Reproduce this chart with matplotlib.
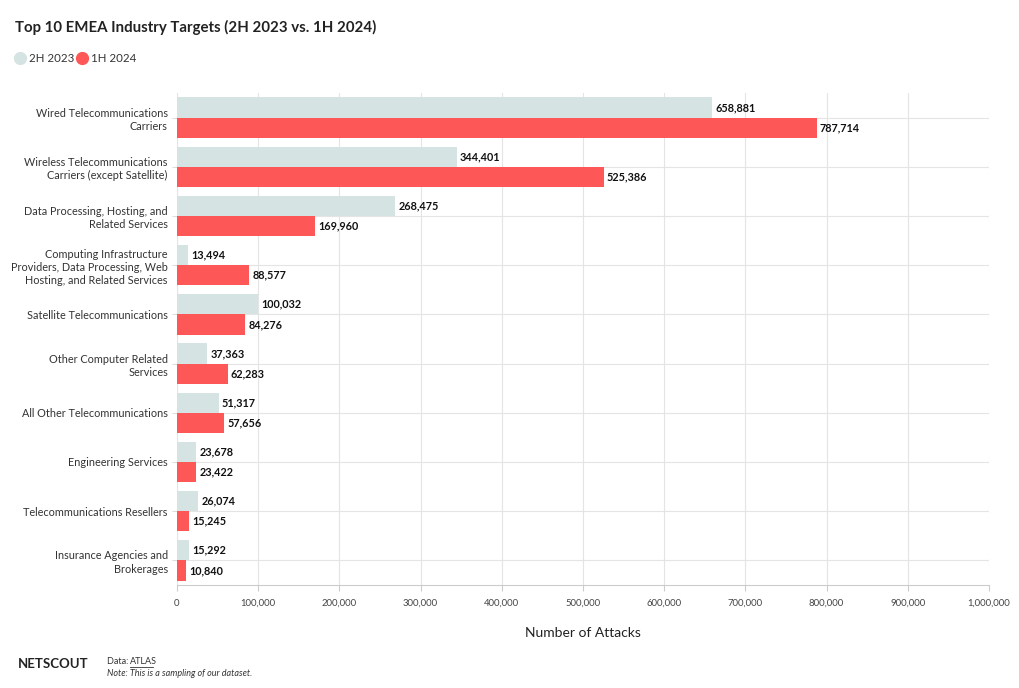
import matplotlib.pyplot as plt
import numpy as np

categories = [
    "Wired Telecommunications\nCarriers",
    "Wireless Telecommunications\nCarriers (except Satellite)",
    "Data Processing, Hosting, and\nRelated Services",
    "Computing Infrastructure\nProviders, Data Processing, Web\nHosting, and Related Services",
    "Satellite Telecommunications",
    "Other Computer Related\nServices",
    "All Other Telecommunications",
    "Engineering Services",
    "Telecommunications Resellers",
    "Insurance Agencies and\nBrokerages",
]
h2_2023 = [658881, 344401, 268475, 13494, 100032, 37363, 51317, 23678, 26074, 15292]
h1_2024 = [787714, 525386, 169960, 88577, 84276, 62283, 57656, 23422, 15245, 10840]
series_names = ["2H 2023", "1H 2024"]
xticks = np.arange(0, 1000001, 100000)

grey = "#d5e3e3"
red = "#fd5757"
plt.rcParams["font.family"] = ["Lato", "DejaVu Sans"]

fig = plt.figure(figsize=(10.2, 6.88), dpi=100)
ax = fig.add_axes([177/1020, 1-585/688, (989-177)/1020, (585-93)/688])

y = np.arange(len(categories))
bh = 0.41
ax.barh(y - bh/2, h2_2023, height=bh, color=grey, zorder=3)
ax.barh(y + bh/2, h1_2024, height=bh, color=red, zorder=3)

for yi, v in zip(y, h2_2023):
    ax.text(v + 4000, yi - bh/2, f"{v:,}", va="center", ha="left",
            fontsize=7.8, fontweight="bold", color="#111111", zorder=4)
for yi, v in zip(y, h1_2024):
    ax.text(v + 4000, yi + bh/2, f"{v:,}", va="center", ha="left",
            fontsize=7.8, fontweight="bold", color="#111111", zorder=4)

ax.set_xlim(0, 1000000)
ax.set_ylim(len(categories) - 0.5, -0.5)
ax.set_yticks(y)
ax.set_yticklabels(categories, fontsize=7.8, color="#333333", linespacing=1.25)
ax.set_xticks(xticks)
ax.set_xticklabels([f"{t:,}" for t in xticks], fontsize=6.8, color="#444444")
ax.tick_params(axis="y", length=3.6, color="#dddddd", pad=3)
ax.tick_params(axis="x", length=4, color="#cccccc", pad=6)

ax.grid(True, axis="both", color="#e4e4e4", linewidth=0.8, zorder=0)
for s in ["top", "right", "left"]:
    ax.spines[s].set_visible(False)
ax.spines["bottom"].set_color("#cccccc")
ax.spines["bottom"].set_linewidth(0.8)
ax.axvline(0, color="#dddddd", linewidth=0.8, zorder=1)

ax.set_xlabel("Number of Attacks", fontsize=10, color="#222222", labelpad=14)

fig.text(15/1020, 1-27/688, "Top 10 EMEA Industry Targets (2H 2023 vs. 1H 2024)",
         fontsize=10.8, fontweight="bold", color="#222222", va="center")

# legend
lx = 20
for name, c in zip(series_names, [grey, red]):
    fig.add_artist(plt.Line2D([lx/1020], [1-58/688], marker="o", markersize=8.5,
                              color=c, linestyle="none", transform=fig.transFigure))
    fig.text((lx + 9)/1020, 1-58/688, name, fontsize=8.3, color="#333333", va="center")
    lx += 62

fig.text(18/1020, 1-664/688, "NETSCOUT", fontsize=9.5, fontweight="bold", color="#222222", va="center")
fig.text(107/1020, 1-662/688, "Data: ", fontsize=6.5, color="#333333", va="center")
fig.text(130/1020, 1-662/688, "ATLAS", fontsize=6.5, color="#333333", va="center")
fig.add_artist(plt.Line2D([130/1020, 153/1020], [1-667/688, 1-667/688], color="#333333", linewidth=0.6))
fig.text(107/1020, 1-673/688, "Note: This is a sampling of our dataset.", fontsize=6.5,
         style="italic", color="#333333", va="center")

fig.savefig("out.png", dpi=100)
